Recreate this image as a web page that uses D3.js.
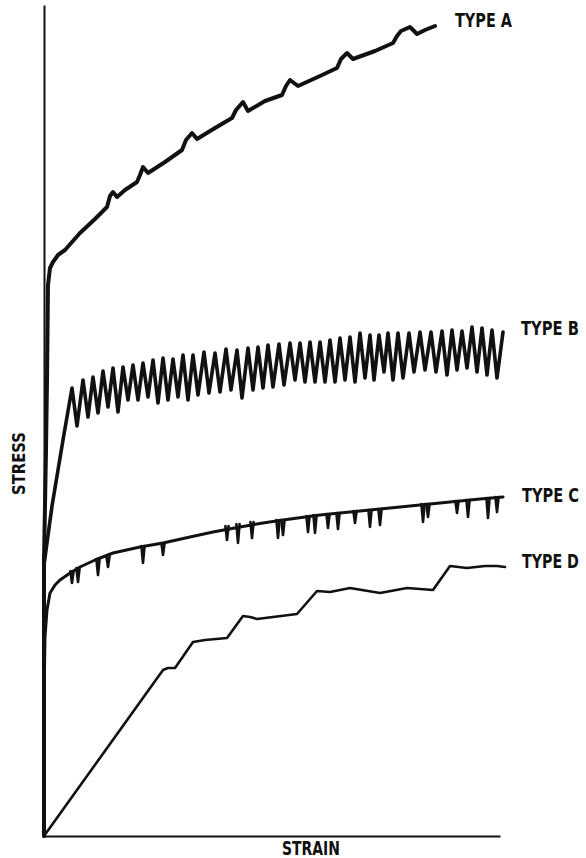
<!DOCTYPE html>
<html>
<head>
<meta charset="utf-8">
<script src="https://cdn.jsdelivr.net/npm/d3@7"></script>
<style>
  html, body { margin: 0; padding: 0; background: #fff; }
  svg { display: block; }
  .lbl { font-family: "DejaVu Sans Condensed", "DejaVu Sans", sans-serif; font-weight: bold; fill: #111; }
</style>
</head>
<body>
<svg id="chart" width="586" height="858"></svg>
<script>
// ---- Data (arbitrary units: strain, stress) ----
const typeA = [[0,0],[0,276],[2,386],[3,456],[4,551],[6,568],[9,574],[14,581],[21,586],[36,603],[51,617],[63,629],[66,640],[69,644],[73,639],[81,646],[93,654],[96,661],[99,669],[104,663],[121,674],[138,686],[142,696],[148,703],[153,697],[171,708],[188,718],[192,726],[199,734],[204,725],[221,735],[238,741],[242,750],[246,756],[254,750],[276,760],[293,768],[297,777],[303,783],[309,777],[331,785],[349,793],[353,800],[357,805],[366,809],[373,802],[381,806],[391,810]];

const typeB = [[0,0],[0,271],[8,330],[19,396],[28,448],
  [33,410],[39,456],[44,419],[49,459],[54,423],[59,465],[64,429],[69,468],[74,424],[79,469],
  [84,436],[89,471],[94,436],[99,473],[104,439],[109,476],[114,433],[119,478],[124,436],[129,477],
  [134,439],[139,481],[144,436],[149,481],[154,441],[160,484],[165,443],[171,483],[176,444],[182,487],
  [187,446],[193,486],[198,438],[204,488],[209,446],[214,489],[219,448],[224,491],[229,449],[235,492],
  [240,451],[246,493],[251,456],[256,493],[261,454],[266,494],[271,454],[276,494],[281,454],[286,496],
  [291,454],[296,498],[301,456],[306,499],[311,454],[316,503],[321,458],[326,501],[330,456],[335,501],
  [340,464],[344,503],[349,456],[354,503],[359,458],[365,503],[370,464],[376,504],[381,466],[387,504],
  [392,464],[398,505],[403,461],[408,506],[413,466],[418,505],[423,468],[428,509],[433,464],[438,508],
  [443,461],[448,506],[453,458],[459,504]];

const typeC = [[0,0],[0,136],[1,199],[3,226],[6,243],[11,251],[16,256],[26,263],[36,269],[51,276],[69,283],[96,289],[119,293],[146,299],[169,304],[196,309],[219,313],[239,316],[276,321],[306,324],[356,329],[406,334],[436,337],[459,339]];

// serrations on type C: [strain, stress before drop, stress at bottom of drop]
const typeCDrops = [[28,265,253],[34,268,254],[54,277,261],[64,280,269],[99,290,273],[119,293,281],[183,310,296],[194,312,293],[208,314,298],[234,316,298],[239,316,301],[264,320,304],[271,321,303],[284,322,308],[294,323,307],[311,325,313],[326,326,309],[336,327,311],[379,332,314],[384,332,319],[413,335,323],[424,336,319],[444,338,318],[453,339,324]];

const typeD = [[0,0],[119,166],[124,168],[131,168],[149,194],[161,196],[183,198],[199,220],[206,219],[213,217],[229,219],[253,222],[273,245],[286,244],[306,248],[336,243],[363,248],[389,246],[406,270],[423,268],[441,270],[453,270],[461,269]];

const seriesNames = ["TYPE A", "TYPE B", "TYPE C", "TYPE D"];
const xTitle = "STRAIN";
const yTitle = "STRESS";

// ---- Layout ----
const svg = d3.select("#chart");
svg.append("rect").attr("width", 586).attr("height", 858).attr("fill", "#fff");

const x = d3.scaleLinear().domain([0, 456]).range([44, 500]);
const y = d3.scaleLinear().domain([0, 831]).range([836, 5]);

// axes (no ticks)
const gx = svg.append("g").attr("transform", `translate(0,${y(0)})`)
  .call(d3.axisBottom(x).tickValues([]).tickSizeOuter(0));
const gy = svg.append("g").attr("transform", `translate(${x(0)},0)`)
  .call(d3.axisLeft(y).tickValues([]).tickSizeOuter(0));
[gx, gy].forEach(g => g.select(".domain").attr("stroke", "#111").attr("stroke-width", 2));

const line = d3.line().x(d => x(d[0])).y(d => y(d[1]));

const styles = [
  { data: typeA, w: 4 },
  { data: typeB, w: 3.6 },
  { data: typeC, w: 3 },
  { data: typeD, w: 2.6 }
];
styles.forEach(s => {
  svg.append("path").attr("d", line(s.data))
    .attr("fill", "none").attr("stroke", "#111")
    .attr("stroke-width", s.w)
    .attr("stroke-linejoin", "round").attr("stroke-linecap", "round");
});

// type C serrations
svg.append("g").selectAll("path").data(typeCDrops).join("path")
  .attr("d", d => `M${x(d[0]) - 1.6},${y(d[1])}L${x(d[0])},${y(d[2])}L${x(d[0]) + 1.6},${y(d[1])}`)
  .attr("fill", "none").attr("stroke", "#111").attr("stroke-width", 2.6)
  .attr("stroke-linejoin", "round").attr("stroke-linecap", "round");

// condensed text helper: horizontal scale so the text spans the wanted width
function condensedText(str, px, py, size, width, rotate) {
  const t = svg.append("text").attr("class", "lbl").attr("font-size", size).text(str);
  const natural = t.node().getComputedTextLength();
  const sx = width / natural;
  t.attr("transform", `translate(${px},${py})${rotate ? " rotate(" + rotate + ")" : ""} scale(${sx},1)`);
  return t;
}

// series labels
const labelPos = [
  { x: 455, y: 27, len: 57 },
  { x: 521, y: 335, len: 58 },
  { x: 522, y: 502, len: 57 },
  { x: 522, y: 568, len: 57 }
];
seriesNames.forEach((n, i) => condensedText(n, labelPos[i].x, labelPos[i].y, 20, labelPos[i].len));

// axis titles
condensedText(xTitle, 282, 855, 20, 58);
condensedText(yTitle, 25, 495, 18, 63, -90);
</script>
</body>
</html>
